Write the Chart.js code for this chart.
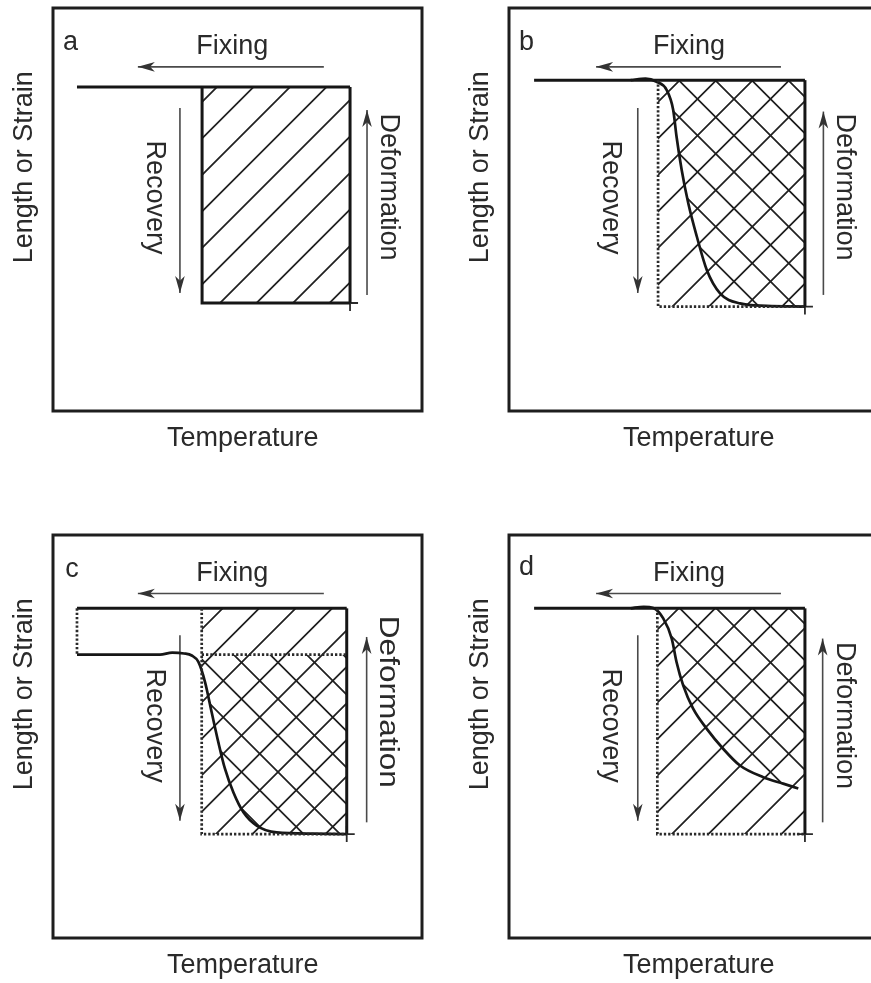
<!DOCTYPE html>
<html>
<head>
<meta charset="utf-8">
<title>Shape memory cycle schematic</title>
<script src="https://cdn.jsdelivr.net/npm/chart.js@4.4.1/dist/chart.umd.min.js"></script>
<style>
  html, body { margin:0; padding:0; background:#ffffff; }
  body { width:871px; height:983px; overflow:hidden; position:relative; }
  .panel { position:absolute; width:436px; height:470px; }
  .panel canvas { display:block; }
</style>
</head>
<body>
<div class="panel" style="left:0px;top:0px"><canvas id="chart-a" width="436" height="470"></canvas></div>
<div class="panel" style="left:456px;top:0px"><canvas id="chart-b" width="436" height="470"></canvas></div>
<div class="panel" style="left:0px;top:527px"><canvas id="chart-c" width="436" height="470"></canvas></div>
<div class="panel" style="left:456px;top:527px"><canvas id="chart-d" width="436" height="470"></canvas></div>
<script>
// ---------------- text ----------------
const xAxisTitle = 'Temperature';
const yAxisTitle = 'Length or Strain';
const stepNames = ['Fixing', 'Recovery', 'Deformation'];
const panelLetters = ['a', 'b', 'c', 'd'];

// ---------------- panel a (T = temperature, S = strain, arbitrary units 0-100) ----------------
const aFixT = [80.5, 6.5];
const aFixS = [80.4, 80.4];
const aRecT = [40.4, 40.4, 80.5];
const aRecS = [80.4, 26.8, 26.8];
const aDefT = [80.5, 80.5];
const aDefS = [26.8, 80.4];

// ---------------- panel b ----------------
const bFixT = [80.2, 6.8];
const bFixS = [82.1, 82.1];
const bRecT = [33.0, 37.0, 40.0, 42.7, 44.5, 45.4, 46.8, 48.6, 50.9, 53.6, 57.2, 62.6, 69.8, 80.2];
const bRecS = [82.1, 82.5, 81.7, 79.7, 74.7, 68.1, 59.8, 51.5, 43.3, 35.0, 29.2, 26.7, 26.1, 25.9];
const bDefT = [80.2, 80.2];
const bDefS = [25.9, 82.1];
const bIdealT = [40.4, 40.4, 80.2];
const bIdealS = [82.1, 25.9, 25.9];

// ---------------- panel c ----------------
const cFixT = [79.6, 6.5];
const cFixS = [81.8, 81.8];
const cGapT = [6.5, 6.5];
const cGapS = [81.8, 70.3];
const cRecT = [6.5, 29.0, 32.3, 35.5, 37.6, 39.4, 41.2, 43.0, 44.8, 46.6, 48.9, 51.6, 55.2, 60.6, 70.5, 79.6];
const cRecS = [70.3, 70.3, 70.8, 70.6, 70.1, 68.5, 63.5, 56.0, 48.6, 42.0, 36.1, 31.2, 27.9, 26.2, 25.9, 25.8];
const cDefT = [79.6, 79.6];
const cDefS = [25.8, 81.8];
const cIdealT = [40.3, 40.3, 79.6];
const cIdealS = [81.8, 25.8, 25.8];
const cResidT = [40.3, 79.6];
const cResidS = [70.3, 70.3];

// ---------------- panel d ----------------
const dFixT = [80.2, 6.8];
const dFixS = [81.8, 81.8];
const dRecT = [33.0, 36.5, 39.1, 41.8, 44.1, 45.4, 47.2, 49.9, 53.6, 58.1, 62.6, 68.9, 74.3, 78.4];
const dRecS = [81.8, 82.2, 81.9, 79.3, 74.3, 68.5, 62.7, 56.9, 51.9, 46.9, 42.8, 39.9, 38.3, 37.1];
const dDefT = [80.2, 80.2];
const dDefS = [25.8, 81.8];
const dIdealT = [40.2, 40.2, 80.2];
const dIdealS = [81.8, 25.8, 25.8];

// ---------------- styles ----------------
const FONT = '"Liberation Sans", Arial, Helvetica, sans-serif';
const FONT_SIZE = 27;
const TEXT_COLOR = '#2a2a2a';
const HATCH_SPACING = 36.5;
const STYLE = {
  solid:  { borderColor: '#161616', borderWidth: 3 },
  curve:  { borderColor: '#161616', borderWidth: 2.7, cubicInterpolationMode: 'monotone' },
  dotted: { borderColor: '#2a2a2a', borderWidth: 2.7, borderDash: [2.3, 2.0] },
  arrow:  { borderColor: '#4a4a4a', borderWidth: 1.6 }
};

function pts(T, S) { return T.map((t, i) => ({ x: t, y: S[i] })); }
function lineDs(label, T, S, style) {
  return Object.assign({
    label, data: pts(T, S), fill: false, pointRadius: 0, pointHoverRadius: 0,
    tension: 0, borderCapStyle: 'butt', borderJoinStyle: 'miter'
  }, STYLE[style]);
}
function markerDs(t, s) {
  return { label: 'start', data: [{ x: t, y: s }], showLine: false, pointStyle: 'cross',
    pointRadius: 8, pointBorderWidth: 1.8, pointBorderColor: '#2a2a2a', pointBackgroundColor: '#2a2a2a' };
}
function arrowDs(a) { return lineDs('arrow', [a.from[0], a.to[0]], [a.from[1], a.to[1]], 'arrow'); }

// ---------------- panel layout (annotation anchors in axis units) ----------------
const panels = [
  {
    id: 'chart-a', letter: panelLetters[0],
    lines: [
      lineDs('Fixing', aFixT, aFixS, 'solid'),
      lineDs('Recovery', aRecT, aRecS, 'solid'),
      lineDs('Deformation', aDefT, aDefS, 'solid')
    ],
    marker: [aDefT[0], aDefS[0]],
    hatch: [
      { dir: '/', clip: [aRecT[0], aRecS[1], aDefT[0], aDefS[1]], phase: 24 }
    ],
    arrows: [
      { from: [73.4, 85.4], to: [23.0, 85.4] },
      { from: [34.4, 75.2], to: [34.4, 29.3] },
      { from: [85.1, 28.8], to: [85.1, 74.7] }
    ],
    text: { letter: [2.7, 89.7], fixing: [48.6, 88.7], recovery: [27.6, 53.0], deformation: [90.8, 55.6], defStretch: 1 }
  },
  {
    id: 'chart-b', letter: panelLetters[1],
    lines: [
      lineDs('Ideal', bIdealT, bIdealS, 'dotted'),
      lineDs('Fixing', bFixT, bFixS, 'solid'),
      lineDs('Recovery', bRecT, bRecS, 'curve'),
      lineDs('Deformation', bDefT, bDefS, 'solid')
    ],
    marker: [bDefT[0], bDefS[0]],
    hatch: [
      { dir: '/', clip: [bIdealT[0], bIdealS[1], bDefT[0], bDefS[1]], phase: 24 },
      { dir: '\\', clip: [bIdealT[0], bIdealS[1], bDefT[0], bDefS[1]], curve: 2, corners: [[bDefT[1], bDefS[1]]], phase: 12 }
    ],
    arrows: [
      { from: [73.7, 85.4], to: [23.6, 85.4] },
      { from: [34.9, 75.2], to: [34.9, 29.3] },
      { from: [85.2, 28.8], to: [85.2, 74.3] }
    ],
    text: { letter: [2.7, 89.7], fixing: [48.8, 88.7], recovery: [27.6, 53.0], deformation: [90.8, 55.6], defStretch: 1 }
  },
  {
    id: 'chart-c', letter: panelLetters[2],
    lines: [
      lineDs('Ideal', cIdealT, cIdealS, 'dotted'),
      lineDs('Residual', cResidT, cResidS, 'dotted'),
      lineDs('Gap', cGapT, cGapS, 'dotted'),
      lineDs('Fixing', cFixT, cFixS, 'solid'),
      lineDs('Recovery', cRecT, cRecS, 'curve'),
      lineDs('Deformation', cDefT, cDefS, 'solid')
    ],
    marker: [cDefT[0], cDefS[0]],
    hatch: [
      { dir: '/', clip: [cIdealT[0], cIdealS[1], cDefT[0], cDefS[1]], phase: 24 },
      { dir: '\\', clip: [cIdealT[0], cIdealS[1], cDefT[0], cResidS[0]], curve: 4, corners: [[cResidT[1], cResidS[1]]], phase: 12 }
    ],
    arrows: [
      { from: [73.4, 85.5], to: [23.0, 85.5] },
      { from: [34.4, 75.1], to: [34.4, 29.1] },
      { from: [85.0, 28.7], to: [85.0, 74.7] }
    ],
    text: { letter: [3.3, 89.6], fixing: [48.6, 88.6], recovery: [27.6, 52.7], deformation: [90.6, 58.6], defStretch: 1.17 }
  },
  {
    id: 'chart-d', letter: panelLetters[3],
    lines: [
      lineDs('Ideal', dIdealT, dIdealS, 'dotted'),
      lineDs('Fixing', dFixT, dFixS, 'solid'),
      lineDs('Recovery', dRecT, dRecS, 'curve'),
      lineDs('Deformation', dDefT, dDefS, 'solid')
    ],
    marker: [dDefT[0], dDefS[0]],
    hatch: [
      { dir: '/', clip: [dIdealT[0], dIdealS[1], dDefT[0], dDefS[1]], phase: 24 },
      { dir: '\\', clip: [dIdealT[0], dIdealS[1], dDefT[0], dDefS[1]], curve: 2,
        corners: [[dDefT[0], dRecS[dRecS.length - 1]], [dDefT[1], dDefS[1]]], phase: 12 }
    ],
    arrows: [
      { from: [73.7, 85.5], to: [23.6, 85.5] },
      { from: [34.9, 75.1], to: [34.9, 29.1] },
      { from: [85.0, 28.7], to: [85.0, 74.3] }
    ],
    text: { letter: [2.7, 90.0], fixing: [48.8, 88.6], recovery: [27.6, 52.7], deformation: [90.8, 55.2], defStretch: 1 }
  }
];

function makeSchematicPlugin(spec) {
  return {
    id: 'schematic' + spec.letter,
    beforeDatasetsDraw(chart) {
      const { ctx, chartArea: A, scales: { x, y } } = chart;
      const X = v => x.getPixelForValue(v), Y = v => y.getPixelForValue(v);
      spec.hatch.forEach(h => {
        ctx.save();
        const r = h.clip;
        ctx.beginPath();
        ctx.rect(X(r[0]), Y(r[3]), X(r[2]) - X(r[0]), Y(r[1]) - Y(r[3]));
        ctx.clip();
        if (h.curve != null) {
          const line = chart.getDatasetMeta(h.curve).dataset;
          ctx.beginPath();
          let ok = false;
          try {
            if (line.updateControlPoints) line.updateControlPoints(A, 'x');
            line.path(ctx);
            ok = true;
          } catch (e) { ok = false; }
          if (!ok) {
            ctx.beginPath();
            chart.data.datasets[h.curve].data.forEach((p, i) =>
              i ? ctx.lineTo(X(p.x), Y(p.y)) : ctx.moveTo(X(p.x), Y(p.y)));
          }
          h.corners.forEach(c => ctx.lineTo(X(c[0]), Y(c[1])));
          ctx.closePath();
          ctx.clip();
        }
        const L = A.left, R = A.right, T = A.top, B = A.bottom, sp = HATCH_SPACING;
        ctx.strokeStyle = '#202020';
        ctx.lineWidth = 1.75;
        ctx.beginPath();
        if (h.dir === '/') {
          let c = L + T + h.phase;
          while (c > L + T) c -= sp;
          for (; c <= R + B; c += sp) { ctx.moveTo(L, c - L); ctx.lineTo(R, c - R); }
        } else {
          let c = T - L + h.phase;
          while (c > T - R) c -= sp;
          for (; c <= B - L; c += sp) { ctx.moveTo(L, L + c); ctx.lineTo(R, R + c); }
        }
        ctx.stroke();
        ctx.restore();
      });
    },
    afterDatasetsDraw(chart) {
      const { ctx, scales: { x, y } } = chart;
      ctx.save();
      ctx.fillStyle = '#333333';
      spec.arrows.forEach(a => {
        const x0 = x.getPixelForValue(a.from[0]), y0 = y.getPixelForValue(a.from[1]);
        const x1 = x.getPixelForValue(a.to[0]), y1 = y.getPixelForValue(a.to[1]);
        const len = Math.hypot(x1 - x0, y1 - y0), ux = (x1 - x0) / len, uy = (y1 - y0) / len;
        const nx = -uy, ny = ux, hl = 17, hw = 4.8;
        ctx.beginPath();
        ctx.moveTo(x1, y1);
        ctx.lineTo(x1 - ux * hl + nx * hw, y1 - uy * hl + ny * hw);
        ctx.lineTo(x1 - ux * hl * 0.72, y1 - uy * hl * 0.72);
        ctx.lineTo(x1 - ux * hl - nx * hw, y1 - uy * hl - ny * hw);
        ctx.closePath();
        ctx.fill();
      });
      ctx.restore();
    },
    afterDraw(chart) {
      const { ctx, chartArea: A, scales: { x, y } } = chart;
      const X = v => x.getPixelForValue(v), Y = v => y.getPixelForValue(v);
      ctx.save();
      // frame
      ctx.strokeStyle = '#1e1e1e';
      ctx.lineWidth = 3;
      ctx.strokeRect(A.left, A.top, A.width, A.height);
      // texts
      ctx.fillStyle = TEXT_COLOR;
      ctx.font = FONT_SIZE + 'px ' + FONT;
      const t = spec.text;
      ctx.textAlign = 'left'; ctx.textBaseline = 'alphabetic';
      ctx.fillText(spec.letter, X(t.letter[0]), Y(t.letter[1]));
      ctx.textAlign = 'center';
      ctx.fillText(stepNames[0], X(t.fixing[0]), Y(t.fixing[1]));
      ctx.fillText(xAxisTitle, X(51.4), A.bottom + 34.5);
      ctx.textBaseline = 'middle';
      const rot = (str, px, py, ang, stretch) => {
        ctx.save(); ctx.translate(px, py); ctx.rotate(ang); ctx.scale(stretch || 1, 1); ctx.fillText(str, 0, 0); ctx.restore();
      };
      rot(stepNames[1], X(t.recovery[0]), Y(t.recovery[1]), Math.PI / 2, 1);
      rot(stepNames[2], X(t.deformation[0]), Y(t.deformation[1]), Math.PI / 2, t.defStretch);
      rot(yAxisTitle, A.left - 28, Y(60.5), -Math.PI / 2, 1);
      ctx.restore();
    }
  };
}

panels.forEach(spec => {
  const datasets = spec.lines.concat(spec.arrows.map(arrowDs), [markerDs(spec.marker[0], spec.marker[1])]);
  new Chart(document.getElementById(spec.id), {
    type: 'line',
    data: { datasets },
    options: {
      responsive: false,
      animation: false,
      devicePixelRatio: 1,
      events: [],
      layout: { padding: { left: 53, top: 8, right: 14, bottom: 59 }, autoPadding: false },
      plugins: { legend: { display: false }, tooltip: { enabled: false }, title: { display: false } },
      scales: {
        x: { type: 'linear', min: 0, max: 100, display: false },
        y: { type: 'linear', min: 0, max: 100, display: false }
      }
    },
    plugins: [makeSchematicPlugin(spec)]
  });
});
</script>
</body>
</html>
